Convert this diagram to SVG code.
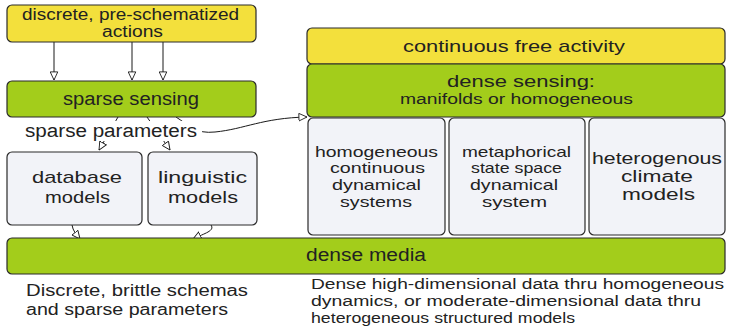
<svg xmlns="http://www.w3.org/2000/svg" width="732" height="330" viewBox="0 0 732 330">
<style>
text{font-family:"Liberation Sans",Arial,sans-serif;fill:#222}
.y{fill:#f3e03c;stroke:#2a2a2a;stroke-width:1.2}
.g{fill:#a3cd1b;stroke:#2a2a2a;stroke-width:1.2}
.b{fill:#f2f3f8;stroke:#2a2a2a;stroke-width:1.2}
.c{fill:none;stroke:#1a1a1a;stroke-width:1;marker-end:url(#ah)}
</style>
<defs>
<marker id="ah" viewBox="0 0 10 10" refX="9.5" refY="5" markerWidth="9" markerHeight="9" markerUnits="userSpaceOnUse" orient="auto">
<path d="M0.5,0.8 L9.5,5 L0.5,9.2 Z" fill="#fff" stroke="#1a1a1a" stroke-width="1"/>
</marker>
</defs>
<rect width="732" height="330" fill="#fff"/>
<g id="connectors">
<path class="c" d="M54,42 V80"/>
<path class="c" d="M132,42 V80"/>
<path class="c" d="M163,42 V80"/>
<path class="c" d="M118,117 L99,150"/>
<path class="c" d="M147,117 L170,150"/>
<path class="c" d="M176,117 C190,126 196,134 215,132 C245,129 262,118 307,117"/>
<path class="c" d="M72,225 C73,231 76,234 80,239"/>
<path class="c" d="M211,225 C215,231 205,233 193,239"/>
</g>
<g id="actions">
<rect class="y" x="7" y="5" width="249" height="37" rx="5"/>
<text x="22" y="20" font-size="16" textLength="217" lengthAdjust="spacingAndGlyphs">discrete, pre-schematized</text>
<text x="102" y="37" font-size="16" textLength="61" lengthAdjust="spacingAndGlyphs">actions</text>
</g>
<g id="sparse-sensing">
<rect class="g" x="7" y="81" width="249" height="36" rx="5"/>
<text x="63" y="105" font-size="18" textLength="136" lengthAdjust="spacingAndGlyphs">sparse sensing</text>
</g>
<g id="sparse-parameters">
<rect x="22" y="121" width="180" height="20" fill="#fff"/>
<text x="25" y="137" font-size="18" textLength="172" lengthAdjust="spacingAndGlyphs">sparse parameters</text>
</g>
<g id="database-models">
<rect class="b" x="7" y="152" width="135" height="73" rx="5"/>
<text x="32" y="183" font-size="17" textLength="90" lengthAdjust="spacingAndGlyphs">database</text>
<text x="45" y="203" font-size="17" textLength="65" lengthAdjust="spacingAndGlyphs">models</text>
</g>
<g id="linguistic-models">
<rect class="b" x="148" y="152" width="109" height="73" rx="5"/>
<text x="158" y="183" font-size="17" textLength="89" lengthAdjust="spacingAndGlyphs">linguistic</text>
<text x="168" y="203" font-size="17" textLength="70" lengthAdjust="spacingAndGlyphs">models</text>
</g>
<g id="continuous-free-activity">
<rect class="y" x="307" y="28" width="418" height="36" rx="5"/>
<text x="403" y="52" font-size="17" textLength="222" lengthAdjust="spacingAndGlyphs">continuous free activity</text>
</g>
<g id="dense-sensing">
<rect class="g" x="307" y="64" width="418" height="53" rx="5"/>
<text x="447" y="87" font-size="17" textLength="148" lengthAdjust="spacingAndGlyphs">dense sensing:</text>
<text x="400" y="104" font-size="14" textLength="233" lengthAdjust="spacingAndGlyphs">manifolds or homogeneous</text>
</g>
<g id="homogeneous-systems">
<rect class="b" x="308" y="118" width="137" height="117" rx="5"/>
<text x="315" y="157" font-size="15" textLength="123" lengthAdjust="spacingAndGlyphs">homogeneous</text>
<text x="330" y="173" font-size="15" textLength="95" lengthAdjust="spacingAndGlyphs">continuous</text>
<text x="332" y="190" font-size="15" textLength="89" lengthAdjust="spacingAndGlyphs">dynamical</text>
<text x="340" y="207" font-size="15" textLength="72" lengthAdjust="spacingAndGlyphs">systems</text>
</g>
<g id="metaphorical-system">
<rect class="b" x="449" y="118" width="136" height="117" rx="5"/>
<text x="462" y="157" font-size="15" textLength="109" lengthAdjust="spacingAndGlyphs">metaphorical</text>
<text x="471" y="173" font-size="15" textLength="91" lengthAdjust="spacingAndGlyphs">state space</text>
<text x="470" y="190" font-size="15" textLength="88" lengthAdjust="spacingAndGlyphs">dynamical</text>
<text x="482" y="207" font-size="15" textLength="65" lengthAdjust="spacingAndGlyphs">system</text>
</g>
<g id="climate-models">
<rect class="b" x="589" y="118" width="136" height="117" rx="5"/>
<text x="592" y="164" font-size="16" textLength="130" lengthAdjust="spacingAndGlyphs">heterogenous</text>
<text x="621" y="182" font-size="16" textLength="72" lengthAdjust="spacingAndGlyphs">climate</text>
<text x="622" y="200" font-size="16" textLength="73" lengthAdjust="spacingAndGlyphs">models</text>
</g>
<g id="dense-media">
<rect class="g" x="7" y="238" width="718" height="36" rx="5"/>
<text x="306" y="261" font-size="18" textLength="120" lengthAdjust="spacingAndGlyphs">dense media</text>
</g>
<g id="captions">
<text x="26" y="296" font-size="16" textLength="222" lengthAdjust="spacingAndGlyphs">Discrete, brittle schemas</text>
<text x="26" y="315" font-size="16" textLength="202" lengthAdjust="spacingAndGlyphs">and sparse parameters</text>
<text x="311" y="289" font-size="14" textLength="413" lengthAdjust="spacingAndGlyphs">Dense high-dimensional data thru homogeneous</text>
<text x="311" y="306" font-size="14" textLength="390" lengthAdjust="spacingAndGlyphs">dynamics, or moderate-dimensional data thru</text>
<text x="311" y="323" font-size="14" textLength="264" lengthAdjust="spacingAndGlyphs">heterogeneous structured models</text>
</g>
</svg>
